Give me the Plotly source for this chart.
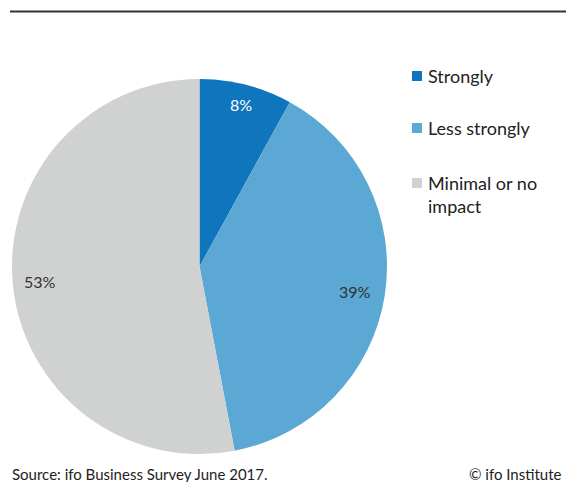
import math
import plotly.graph_objects as go

# Survey shares
categories = ["Strongly", "Less strongly", "Minimal or no<br>impact"]
shares = [8, 39, 53]
colors = ["#0f75bc", "#5ba8d4", "#d0d1d1"]
label_colors = ["#ffffff", "#333333", "#333333"]

W, H = 566, 482
FONT = "Lato, 'Source Sans Pro', sans-serif"

# Pie placement in pixels (left, right, top, bottom)
px_left, px_right, px_top, px_bottom = 12, 387, 79, 454
dom_x = [px_left / W, px_right / W]
dom_y = [1 - px_bottom / H, 1 - px_top / H]

# Radial position of each percentage label, as a fraction of the radius
label_radius = (0.89, 0.84, 0.855)

fig = go.Figure()
fig.add_trace(go.Pie(
    labels=categories,
    values=shares,
    sort=False,
    direction="clockwise",
    rotation=0,
    marker=dict(colors=colors, line=dict(width=0)),
    textinfo="none",
    hoverinfo="label+percent",
    showlegend=False,
    domain=dict(x=dom_x, y=dom_y),
))

annotations = []

# Percentage labels placed along each slice bisector
cx = (px_left + px_right) / 2
cy = (px_top + px_bottom) / 2
r = (px_right - px_left) / 2
total = sum(shares)
cum = 0
for val, tc, k in zip(shares, label_colors, label_radius):
    mid = (cum + val / 2) / total * 2 * math.pi
    cum += val
    lx = cx + k * r * math.sin(mid)
    ly = cy - k * r * math.cos(mid)
    annotations.append(dict(
        x=lx / W, y=1 - ly / H, xref="paper", yref="paper",
        text=f"{val}%", showarrow=False,
        font=dict(family=FONT, size=16, color=tc),
        xanchor="center", yanchor="middle",
    ))

# Legend: colour squares with labels
legend_y = [76, 128, 183]
sq = 10
for name, col, y in zip(categories, colors, legend_y):
    fig.add_shape(type="rect", xref="paper", yref="paper",
                  x0=412 / W, x1=(412 + sq) / W,
                  y0=1 - (y + sq / 2) / H, y1=1 - (y - sq / 2) / H,
                  fillcolor=col, line=dict(width=0))
    annotations.append(dict(
        x=426 / W, y=1 - (y - 13) / H, xref="paper", yref="paper",
        text=name, showarrow=False, align="left",
        font=dict(family=FONT, size=18, color="#222222"),
        xanchor="left", yanchor="top",
    ))

# Footer texts
annotations.append(dict(
    x=10 / W, y=1 - 474 / H, xref="paper", yref="paper",
    text="Source: ifo Business Survey June 2017.", showarrow=False,
    font=dict(family=FONT, size=15, color="#222222"),
    xanchor="left", yanchor="middle",
))
annotations.append(dict(
    x=564 / W, y=1 - 474 / H, xref="paper", yref="paper",
    text="© ifo Institute", showarrow=False,
    font=dict(family=FONT, size=15, color="#222222"),
    xanchor="right", yanchor="middle",
))

# Top rule
fig.add_shape(type="line", xref="paper", yref="paper",
              x0=10 / W, x1=1, y0=1 - 11.5 / H, y1=1 - 11.5 / H,
              line=dict(color="#333333", width=2))

fig.update_layout(
    width=W, height=H,
    margin=dict(l=0, r=0, t=0, b=0),
    paper_bgcolor="white",
    plot_bgcolor="white",
    annotations=annotations,
    showlegend=False,
)

fig.write_html("out.html")
